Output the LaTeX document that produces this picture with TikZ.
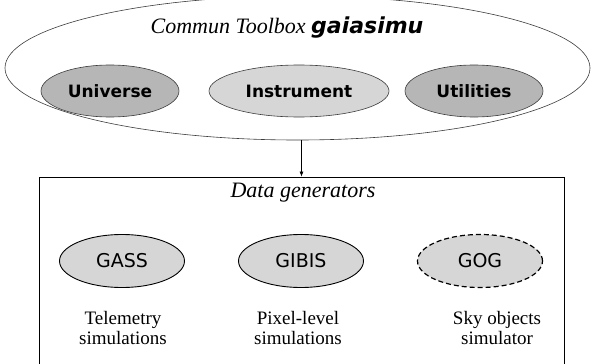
\documentclass[tikz,border=0pt]{standalone}
\usepackage{fontspec}
\setmainfont{Liberation Serif}
\newfontfamily\comicfont{DejaVu Sans}
\usepackage{tikz}
\usetikzlibrary{arrows.meta, shapes.geometric}
\definecolor{darkfill} {RGB}{182,182,182}
\definecolor{lightfill}{RGB}{214,214,214}
\definecolor{edgeclr}  {RGB}{60, 60, 60}

\begin{document}
\begin{tikzpicture}[x=1pt, y=-1pt,
  toolpart/.style={ellipse, draw=edgeclr, line width=0.6pt, inner sep=0pt,
    minimum height=52pt, font=\comicfont\bfseries\fontsize{17}{20}\selectfont},
  generator/.style={ellipse, draw=black, line width=0.9pt, fill=lightfill, inner sep=0pt,
    minimum width=125pt, minimum height=53pt, font=\comicfont\fontsize{19}{22}\selectfont},
  caption/.style={align=center, font=\fontsize{19}{20}\selectfont}]
  \useasboundingbox (0,0) rectangle (592,364);
  % common toolbox
  \node[ellipse, draw=edgeclr, line width=0.6pt, minimum width=585pt, minimum height=144pt]
    (toolbox) at (297.5,68) {};
  \node[font=\itshape\fontsize{22}{26}\selectfont] (tbtitle) at (287,28)
    {Commun Toolbox {\comicfont\bfseries gaiasimu}};
  \node[toolpart, fill=darkfill,  minimum width=138pt] (universe)   at (110,91) {Universe};
  \node[toolpart, fill=lightfill, minimum width=180pt] (instrument) at (299,91) {Instrument};
  \node[toolpart, fill=darkfill,  minimum width=138pt] (utilities)  at (474,91) {Utilities};
  % data generators
  \node[draw, line width=0.8pt, minimum width=525pt, minimum height=189pt] (gens) at (301.5,271.5) {};
  \node[font=\itshape\fontsize{22}{26}\selectfont] (gentitle) at (303,193) {Data generators};
  \draw[-{Latex[length=5pt, width=4pt]}, line width=0.6pt] (toolbox.south -| gens.north) -- (gens.north);
  \node[generator] (gass)  at (122,261) {GASS};
  \node[generator] (gibis) at (301,261) {GIBIS};
  \node[generator, line width=1.2pt, dash pattern=on 5pt off 3pt] (gog) at (480,261) {GOG};
  \node[caption] (gasscap)  at (123,328) {Telemetry\\simulations};
  \node[caption] (gibiscap) at (298,328) {Pixel-level\\simulations};
  \node[caption] (gogcap)   at (497,328) {Sky objects\\simulator};
\end{tikzpicture}
\end{document}
